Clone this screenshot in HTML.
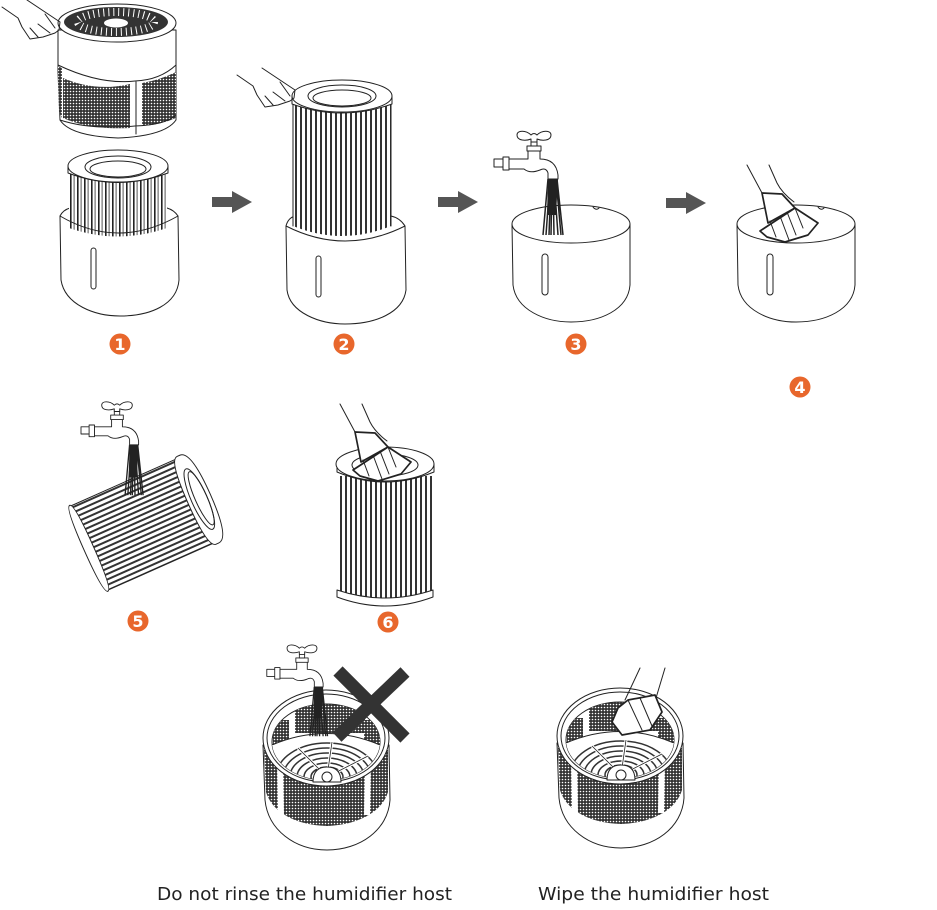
<!DOCTYPE html>
<html><head><meta charset="utf-8"><style>
html,body{margin:0;padding:0;background:#fff;width:937px;height:910px;overflow:hidden}
svg{display:block}
.l{fill:none;stroke:#222;stroke-width:1;stroke-linejoin:round;stroke-linecap:round}
.w{fill:#fff;stroke:#222;stroke-width:1;stroke-linejoin:round}
.c{fill:#fff;stroke:#222;stroke-width:1.7;stroke-linejoin:round}
.n{font:bold 16px "DejaVu Sans",sans-serif;fill:#fff;text-anchor:middle}
.t{font:17.5px "DejaVu Sans",sans-serif;fill:#222}
</style></head><body>
<svg width="937" height="910" viewBox="0 0 937 910" xmlns="http://www.w3.org/2000/svg">
<defs>
<pattern id="mesh" width="3" height="3" patternUnits="userSpaceOnUse"><rect width="3" height="3" fill="#333"/><circle cx="1.5" cy="1.5" r=".8" fill="#fff"/></pattern>
<pattern id="s1" width="7" height="4" patternUnits="userSpaceOnUse"><rect width="7" height="4" fill="#fff"/><rect width="1.6" height="4" fill="#222"/><rect x="3.6" width="1" height="4" fill="#555"/></pattern>
<pattern id="s2" width="5" height="4" patternUnits="userSpaceOnUse"><rect width="5" height="4" fill="#fff"/><rect width="2" height="4" fill="#333"/></pattern>
<pattern id="s3" width="4" height="5" patternUnits="userSpaceOnUse"><rect width="4" height="5" fill="#fff"/><rect width="4" height="2" fill="#333"/></pattern>
<path id="arrow" d="M0 -5H20V-11L40 0L20 11V5H0Z" fill="#555"/>
<g id="faucet">
<path class="w" d="M-40 22H-31V30H-40Z M-31 20H-25V33H-31Z"/>
<path class="w" d="M-25 22H-6V13H6V22Q22 22 24 38V42H14V36Q12 30 6 33Q-4 37 -10 32H-25Z"/>
<path class="w" d="M-7 9H7V14H-7Z"/>
<path class="w" d="M-3 3H3V9H-3Z"/>
<path class="w" d="M-3 -2C-8 -7 -17 -7 -17 -2C-17 4 -8 4 -3 2V5H3V2C8 4 17 4 17 -2C17 -7 8 -7 3 -2C1 -4 -1 -4 -3 -2Z"/>
</g>
<g id="water" stroke="#222" stroke-width="1.5" fill="none">
<path d="M14 42L9 98M16 42L12 98M17 42L15 98M18 42L17 98M19 42L20 98M20 42L24 98M22 42L27 98M23 42L29 98"/>
<path d="M14 42H24L22 78H13Z" fill="#222" stroke="none"/>
</g>
<g id="bucket">
<path class="w" d="M512 224L513 285C516 310 545 322 571 322C600 322 628 310 630 285L630 224Z"/>
<ellipse class="w" cx="571" cy="224" rx="59" ry="19"/>
<path class="l" d="M593 207q3 4 6 1"/>
<rect class="l" x="542" y="254" width="6" height="41" rx="3"/>
</g>
<g id="cloth">
<path class="l" d="M-15 -28L0 0M7 -28L15 -10Q20 0 32 9"/>
<path class="c" d="M0 0L20 1L33 15L6 30Z"/>
<path class="c" d="M-2 38L33 15L56 30L46 42L23 49L5 44Z"/>
<path class="l" d="M33 15L41 35M25 19L34 42M18 23L27 47M8 28L14 44"/>
</g>
<path id="hand" class="l" d="M2 7L18 18L22 27L30 39L43 37L55 33L59 30M27 0L60 22M59 30L60 22M45 14L55 28M38 24L50 33M30 28L38 37"/>
<clipPath id="hostin"><ellipse cx="326" cy="742" rx="54" ry="38"/></clipPath>
<g id="host">
<path class="w" d="M263 745L265 800C268 830 295 850 327 850C360 850 388 830 390 800L389 745Z"/>
<path d="M264 750L266 792C272 812 295 825 327 826C358 825 382 812 388 792L388 750Z" fill="url(#mesh)"/>
<path d="M280 760L281 815M368 760L367 815" stroke="#fff" stroke-width="6"/>
<ellipse class="w" cx="326" cy="738" rx="63" ry="48"/>
<ellipse class="w" cx="326" cy="738" rx="59" ry="44"/>
<ellipse class="w" cx="326" cy="742" rx="54" ry="38"/>
<g clip-path="url(#hostin)">
<rect x="295" y="703" width="70" height="30" fill="url(#mesh)"/>
<rect x="273" y="720" width="16" height="24" fill="url(#mesh)"/>
<rect x="364" y="720" width="16" height="24" fill="url(#mesh)"/>
<path d="M272 745Q326 722 380 745" stroke="#222" fill="#fff"/>
<rect x="272" y="745" width="108" height="40" fill="#fff"/>
<g fill="none" stroke="#333" stroke-width="1.5">
<ellipse cx="327" cy="777" rx="16" ry="10"/><ellipse cx="327" cy="777" rx="23" ry="14"/><ellipse cx="327" cy="777" rx="30" ry="19"/><ellipse cx="327" cy="777" rx="37" ry="24"/><ellipse cx="327" cy="777" rx="44" ry="29"/><ellipse cx="327" cy="777" rx="51" ry="34"/>
</g>
<path d="M327 777L298 748M327 777L332 742M327 777L368 756" stroke="#fff" stroke-width="3"/>
<path d="M327 777L298 748M327 777L332 742M327 777L368 756" stroke="#222" stroke-width=".8"/>
</g>
<path d="M313 782Q313 767 327 767Q341 767 341 782Z" class="w"/>
<circle cx="327" cy="777" r="5" class="w"/>
</g>
</defs>

<!-- Step 1 -->
<path class="w" d="M58 30V72L60 120Q70 136 118 138Q165 136 176 120L176 72V30Z"/>
<path d="M58 66L62 68V118L59 112Z" fill="url(#mesh)"/>
<path d="M63 78Q95 92 130 84V128Q90 130 63 118Z" fill="url(#mesh)"/>
<path d="M142 83Q160 80 176 72V118Q160 125 142 126Z" fill="url(#mesh)"/>
<path class="l" d="M58 65Q100 85 135 81Q160 80 176 65M60 120Q90 130 135 126Q165 125 176 115M136 81V134"/>
<ellipse class="w" cx="117" cy="23" rx="59" ry="19"/>
<ellipse cx="116" cy="22" rx="52" ry="15" fill="#333"/>
<ellipse cx="116" cy="22" rx="38" ry="10" fill="none" stroke="#fff" stroke-width="8" stroke-dasharray="1 4"/>
<ellipse cx="116" cy="23" rx="12" ry="4.5" fill="#fff"/>
<use href="#hand"/>

<path class="w" d="M60 216L61 280C65 305 95 316 120 316C150 316 177 305 179 280L178 216Q174 210 167 208H70Q63 210 60 216Z"/>
<path d="M69 172V228Q118 245 167 228V172Z" fill="url(#s1)"/>
<path class="l" d="M60 216Q118 250 178 216"/>
<path class="w" d="M68 166V173Q118 192 168 173V166Z"/>
<ellipse class="w" cx="118" cy="166" rx="50" ry="16"/>
<ellipse class="w" cx="118" cy="167" rx="33" ry="11"/>
<ellipse class="l" cx="118" cy="169" rx="28" ry="8"/>
<rect class="l" x="91" y="248" width="5" height="41" rx="2.5"/>

<!-- Step 2 -->
<path class="w" d="M286 226L287 290C290 313 320 324 345 324C375 324 403 313 406 290L405 226Q400 218 391 216H295Q288 218 286 226Z"/>
<path d="M293 102V226Q342 246 391 226V102Z" fill="url(#s2)"/>
<path class="l" d="M293 102V226M391 102V226M286 226Q345 256 405 226"/>
<path class="w" d="M292 96V104Q342 122 392 104V96Z"/>
<ellipse class="w" cx="342" cy="96" rx="50" ry="16"/>
<ellipse class="w" cx="342" cy="96" rx="34" ry="11"/>
<ellipse class="l" cx="342" cy="98" rx="29" ry="8"/>
<rect class="l" x="316" y="256" width="5" height="41" rx="2.5"/>
<use href="#hand" transform="translate(235 68)"/>

<!-- Arrows -->
<use href="#arrow" x="212" y="202"/>
<use href="#arrow" x="438" y="202"/>
<use href="#arrow" x="666" y="203"/>

<!-- Step 3 -->
<use href="#bucket"/>
<use href="#faucet" x="534" y="137"/>
<g transform="translate(534 137)"><use href="#water"/></g>

<!-- Step 4 -->
<use href="#bucket" x="225"/>
<use href="#cloth" x="762" y="193"/>

<!-- Step 5 -->
<g transform="translate(144.5 523.5) rotate(-24)">
<rect x="-60" y="-46" width="114" height="92" fill="url(#s3)"/>
<path class="l" d="M-60 -46H56M-60 46H56"/>
<path class="w" d="M-61 -47Q-66 -47 -66 0Q-66 47 -61 47Q-56 47 -56 0Q-56 -47 -61 -47Z"/>
<path class="w" d="M57 -48H60Q72 -48 72 0Q72 48 60 48H57Q48 48 48 0Q48 -48 57 -48Z"/>
<ellipse class="w" cx="60" cy="0" rx="8" ry="33"/>
<ellipse class="l" cx="62" cy="0" rx="6" ry="29"/>
</g>
<g transform="translate(117 407) scale(.9)">
<use href="#faucet"/><use href="#water"/>
</g>

<!-- Step 6 -->
<path d="M338 476V590Q385 608 433 590V476Z" fill="url(#s2)"/>
<path class="w" d="M337 590V597Q385 615 433 597V590Q385 606 337 590Z"/>
<path class="w" d="M337 464V472Q385 492 434 472V464Z"/>
<ellipse class="w" cx="385" cy="464" rx="49" ry="17"/>
<ellipse class="w" cx="385" cy="465" rx="33" ry="11"/>
<use href="#cloth" x="355" y="432"/>

<!-- Do not rinse -->
<use href="#host"/>
<g transform="translate(302 650) scale(.88)"><use href="#water"/><use href="#faucet"/></g>
<path d="M338 671L405 738M405 672L337 737" stroke="#333" stroke-width="13" fill="none"/>

<!-- Wipe -->
<use href="#host" x="294" y="-2"/>
<path class="l" d="M640 668L625 700M665 668L656 698"/>
<path class="c" d="M628 700L655 695L662 712L650 730L622 735L612 722L618 708Z"/>
<path class="l" d="M628 700L642 730M640 698L652 726"/>

<!-- Badges -->
<g fill="#e8672c">
<circle cx="120" cy="344" r="10.5"/><circle cx="344" cy="344" r="10.5"/><circle cx="576" cy="344" r="10.5"/>
<circle cx="800" cy="387" r="10.5"/><circle cx="138" cy="621" r="10.5"/><circle cx="388" cy="622" r="10.5"/>
</g>
<text class="n" x="120" y="350">1</text>
<text class="n" x="344" y="350">2</text>
<text class="n" x="576" y="350">3</text>
<text class="n" x="800" y="393">4</text>
<text class="n" x="138" y="627">5</text>
<text class="n" x="388" y="628">6</text>

<text class="t" x="157" y="900" textLength="295" lengthAdjust="spacingAndGlyphs">Do not rinse the humidifier host</text>
<text class="t" x="538" y="900" textLength="231" lengthAdjust="spacingAndGlyphs">Wipe the humidifier host</text>
</svg>
</body></html>
